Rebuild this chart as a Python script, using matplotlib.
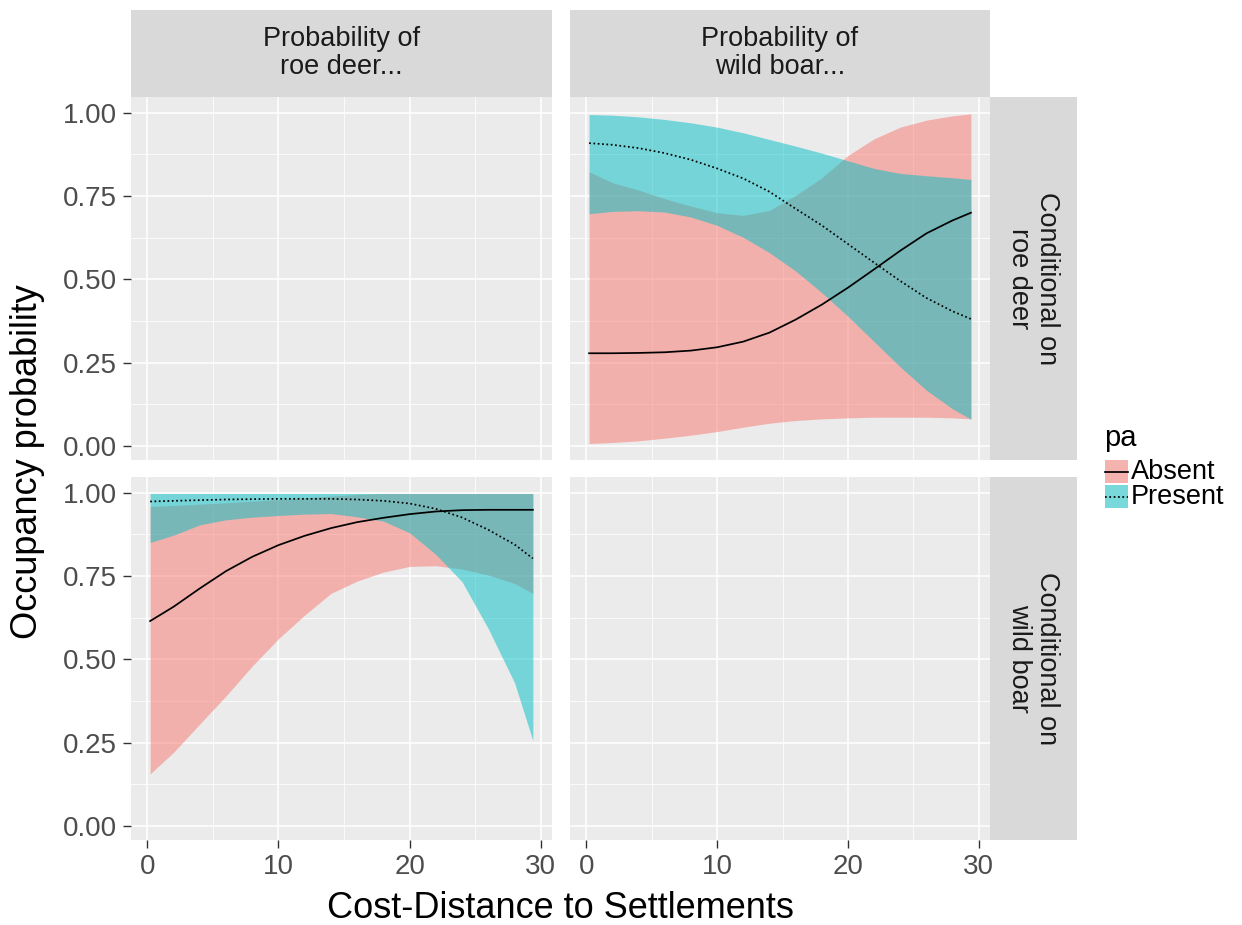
import numpy as np
import matplotlib.pyplot as plt
from matplotlib.patches import Rectangle

plt.rcParams['font.family'] = ['Liberation Sans', 'DejaVu Sans']

#%% ===============================
# Datos: predicciones del modelo de ocupación (ajuste + IC)
# ===============================

# Cost-distance a asentamientos (eje x compartido)
dist = np.array([0.21, 2, 4, 6, 8, 10, 12, 14, 16, 18, 20, 22, 24, 26, 28, 29.4])

# Jabalí condicionado a corzo (pa = Absent / Present)
boar_abs_fit = [0.278, 0.278, 0.279, 0.281, 0.286, 0.296, 0.313, 0.340, 0.379, 0.424,
                0.475, 0.530, 0.586, 0.638, 0.677, 0.700]
boar_abs_lo = [0.007, 0.010, 0.015, 0.023, 0.032, 0.043, 0.056, 0.068, 0.076, 0.081,
               0.084, 0.086, 0.086, 0.086, 0.084, 0.081]
boar_abs_hi = [0.823, 0.790, 0.768, 0.742, 0.720, 0.700, 0.692, 0.707, 0.752, 0.805,
               0.872, 0.922, 0.957, 0.978, 0.991, 0.997]
boar_pre_fit = [0.909, 0.904, 0.894, 0.879, 0.859, 0.833, 0.803, 0.763, 0.712, 0.662,
                0.606, 0.550, 0.495, 0.444, 0.404, 0.381]
boar_pre_lo = [0.697, 0.704, 0.706, 0.702, 0.687, 0.662, 0.626, 0.580, 0.525, 0.460,
               0.389, 0.313, 0.237, 0.167, 0.111, 0.080]
boar_pre_hi = [0.995, 0.993, 0.988, 0.980, 0.970, 0.957, 0.940, 0.920, 0.900, 0.879,
               0.856, 0.833, 0.818, 0.811, 0.805, 0.800]

# Corzo condicionado a jabalí
deer_abs_fit = [0.615, 0.658, 0.713, 0.765, 0.808, 0.843, 0.871, 0.894, 0.912, 0.925,
                0.936, 0.944, 0.948, 0.949, 0.949, 0.949]
deer_abs_lo = [0.156, 0.221, 0.306, 0.390, 0.480, 0.562, 0.633, 0.698, 0.735, 0.762,
               0.779, 0.781, 0.771, 0.753, 0.728, 0.698]
deer_abs_hi = [0.959, 0.962, 0.966, 0.970, 0.975, 0.980, 0.985, 0.990, 0.995, 0.998,
               0.998, 0.998, 0.998, 0.998, 0.998, 0.998]
deer_pre_fit = [0.974, 0.976, 0.978, 0.980, 0.981, 0.982, 0.982, 0.982, 0.980, 0.976,
                0.968, 0.952, 0.926, 0.889, 0.845, 0.803]
deer_pre_lo = [0.851, 0.873, 0.904, 0.919, 0.927, 0.932, 0.936, 0.938, 0.928, 0.915,
               0.880, 0.815, 0.733, 0.592, 0.430, 0.256]
deer_pre_hi = [0.998, 0.998, 0.998, 0.998, 0.998, 0.998, 0.998, 0.998, 0.998, 0.998,
               0.998, 0.998, 0.998, 0.998, 0.998, 0.998]

col_labels = ["Probability of\nroe deer...", "Probability of\nwild boar..."]
row_labels = ["Conditional on\nroe deer", "Conditional on\nwild boar"]
pa_levels = ["Absent", "Present"]

x_ticks = [0, 10, 20, 30]
y_ticks = [0.0, 0.25, 0.5, 0.75, 1.0]

# (fila, columna) -> series de cada panel; las diagonales quedan vacías
panels = {
    (0, 1): [(boar_abs_fit, boar_abs_lo, boar_abs_hi), (boar_pre_fit, boar_pre_lo, boar_pre_hi)],
    (1, 0): [(deer_abs_fit, deer_abs_lo, deer_abs_hi), (deer_pre_fit, deer_pre_lo, deer_pre_hi)],
}

#%% ===============================
# Estilo tipo ggplot (theme_gray)
# ===============================
fill_cols = {"Absent": "#F8766D", "Present": "#00BFC4"}
line_styles = {"Absent": "-", "Present": (0, (1.0, 1.5))}
alpha_rib = 0.5
panel_bg = "#EBEBEB"
strip_bg = "#D9D9D9"

W, H = 1242, 925


def box(l, t, r, b):
    # caja en píxeles -> coordenadas de figura
    return [l / W, 1 - b / H, (r - l) / W, (b - t) / H]


col_px = [(131, 552), (570, 990)]
row_px = [(97, 460), (477, 840)]

# límites con expansión del 5% como ggplot
all_lo = np.concatenate([boar_abs_lo, boar_pre_lo, deer_abs_lo, deer_pre_lo])
all_hi = np.concatenate([boar_abs_hi, boar_pre_hi, deer_abs_hi, deer_pre_hi])
xr = dist.max() - dist.min()
xlim = (dist.min() - 0.05 * xr, dist.max() + 0.05 * xr)
yr = all_hi.max() - all_lo.min()
ylim = (all_lo.min() - 0.05 * yr, all_hi.max() + 0.05 * yr)

fig = plt.figure(figsize=(W / 100, H / 100), dpi=100)

for i, (t, b) in enumerate(row_px):
    for j, (l, r) in enumerate(col_px):
        ax = fig.add_axes(box(l, t, r, b))
        ax.set_facecolor(panel_bg)
        for s in ax.spines.values():
            s.set_visible(False)
        ax.set_xlim(xlim)
        ax.set_ylim(ylim)
        ax.set_xticks(x_ticks)
        ax.set_xticks([5, 15, 25], minor=True)
        ax.set_yticks(y_ticks)
        ax.set_yticks([0.125, 0.375, 0.625, 0.875], minor=True)
        ax.set_xticklabels([str(v) for v in x_ticks])
        ax.set_yticklabels([f"{v:.2f}" for v in y_ticks])
        ax.grid(which="major", color="white", lw=1.1)
        ax.grid(which="minor", color="white", lw=0.55)
        ax.set_axisbelow(True)
        ax.tick_params(which="major", length=6, width=1.0, color="#333333",
                       labelsize=20, labelcolor="#4D4D4D", pad=4)
        ax.tick_params(which="minor", length=0)
        if j > 0:
            ax.tick_params(left=False, labelleft=False)
        if i == 0:
            ax.tick_params(bottom=False, labelbottom=False)

        series = panels.get((i, j))
        if series is not None:
            for lev, (fit, lo, hi) in zip(pa_levels, series):
                ax.fill_between(dist, lo, hi, color=fill_cols[lev], alpha=alpha_rib, lw=0)
            for lev, (fit, lo, hi) in zip(pa_levels, series):
                ax.plot(dist, fit, color="black", lw=1.25, ls=line_styles[lev])

# Tiras superiores (columnas)
for j, (l, r) in enumerate(col_px):
    sax = fig.add_axes(box(l, 10, r, 97))
    sax.set_facecolor(strip_bg)
    sax.set_xticks([])
    sax.set_yticks([])
    for s in sax.spines.values():
        s.set_visible(False)
    sax.text(0.5, 0.5, col_labels[j], ha="center", va="center", fontsize=19.5,
             color="#1A1A1A", linespacing=1.1, transform=sax.transAxes)

# Tiras laterales (filas)
for i, (t, b) in enumerate(row_px):
    sax = fig.add_axes(box(990, t, 1077, b))
    sax.set_facecolor(strip_bg)
    sax.set_xticks([])
    sax.set_yticks([])
    for s in sax.spines.values():
        s.set_visible(False)
    sax.text(0.5, 0.5, row_labels[i], ha="center", va="center", fontsize=19.5,
             color="#1A1A1A", linespacing=1.1, rotation=-90, transform=sax.transAxes)

# Títulos de ejes
fig.text(560 / W, 1 - 908 / H, "Cost-Distance to Settlements", ha="center", va="center",
         fontsize=26, color="black")
fig.text(28 / W, 1 - 462 / H, "Occupancy probability", ha="center", va="center",
         fontsize=26, color="black", rotation=90)

#%% ===============================
# Leyenda (pa)
# ===============================
lax = fig.add_axes(box(1090, 420, 1242, 520))
lax.set_xlim(1090, 1242)
lax.set_ylim(520, 420)
lax.axis("off")
lax.text(1104, 446, "pa", ha="left", va="baseline", fontsize=21, color="black")
for k, lev in enumerate(pa_levels):
    y0 = 460 + k * 25
    lax.add_patch(Rectangle((1105, y0), 23, 23, fc="#F2F2F2", lw=0))
    lax.add_patch(Rectangle((1105, y0), 23, 23, fc=fill_cols[lev], alpha=alpha_rib, lw=0))
    lax.plot([1105, 1128], [y0 + 11.5, y0 + 11.5], color="black", lw=1.25, ls=line_styles[lev])
    lax.text(1131, y0 + 12, lev, ha="left", va="center", fontsize=19.5, color="black")

plt.savefig("out.png", dpi=100)
